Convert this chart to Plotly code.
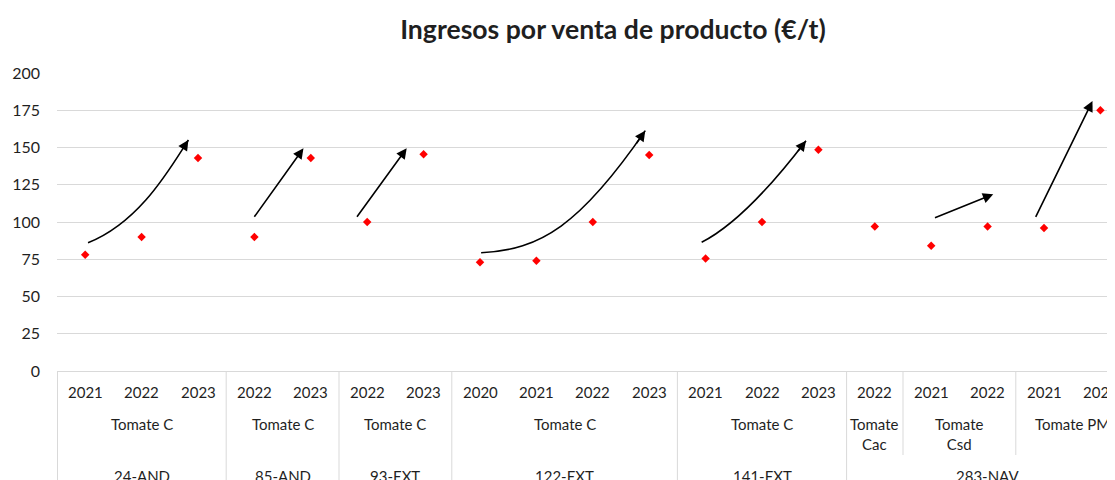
import plotly.graph_objects as go

# ---------------- data ----------------
farms = ["24-AND", "24-AND", "24-AND", "85-AND", "85-AND", "93-EXT", "93-EXT",
         "122-EXT", "122-EXT", "122-EXT", "122-EXT", "141-EXT", "141-EXT", "141-EXT",
         "283-NAV", "283-NAV", "283-NAV", "283-NAV", "283-NAV"]
products = ["Tomate C"] * 14 + ["Tomate<br>Cac", "Tomate<br>Csd", "Tomate<br>Csd",
                                 "Tomate PM", "Tomate PM"]
years = ["2021", "2022", "2023", "2022", "2023", "2022", "2023", "2020", "2021", "2022",
         "2023", "2021", "2022", "2023", "2022", "2021", "2022", "2021", "2023"]
ingresos = [78, 90, 143, 90, 143, 100, 145.5, 73, 74, 100, 145, 75.5, 100, 148.5,
            97, 84, 97, 96, 175]

y_ticks = [0, 25, 50, 75, 100, 125, 150, 175, 200]

# trend arrows drawn over the chart (category index, €/t); c1/c2 = curve control points
trend_arrows = [
    {"start": (0.05, 86), "c1": (0.975, 100), "c2": (1.507, 136.2), "end": (1.83, 155)},
    {"start": (2.98, 102.5), "end": (3.87, 149.5)},
    {"start": (4.80, 102.5), "end": (5.70, 149.5)},
    {"start": (7.02, 79.4), "c1": (8.07, 81.2), "c2": (8.78, 98.0), "end": (9.93, 161.3)},
    {"start": (10.93, 86.4), "c1": (11.71, 101.5), "end": (12.78, 154.6)},
    {"start": (15.04, 102.5), "end": (16.10, 118.6)},
    {"start": (16.84, 102.5), "end": (17.86, 181.2)},
]

# ---------------- layout constants ----------------
OFF = 8                      # page body margin
W, H = 1115 - OFF, 480 - OFF
ML, MT = 57 - OFF, 73 - OFF
AXIS_Y = 371 - OFF
MB = H - AXIS_Y
PH = AXIS_Y - MT
CAT_W = 56.4
FONT = "Lato"
TXT = "#1f1f1f"
GRID = "#d9d9d9"

n = len(years)
xs = list(range(n))
x_max = -0.5 + (W - ML) / CAT_W

fig = go.Figure()
fig.add_trace(go.Scatter(
    x=xs, y=ingresos, mode="markers",
    marker=dict(symbol="diamond", size=6.5, color="#ff0000", line=dict(width=0)),
    showlegend=False, hoverinfo="skip",
))

shapes = []
annotations = []

# year labels
for i, yv in enumerate(years):
    annotations.append(dict(x=i, y=0, xref="x", yref="paper", text=yv, showarrow=False,
                            yanchor="middle", yshift=-21, font=dict(family=FONT, size=15, color=TXT)))


def groups(keys):
    out = []
    start = 0
    for i in range(1, len(keys) + 1):
        if i == len(keys) or keys[i] != keys[start]:
            out.append((start, i - 1, keys[start]))
            start = i
    return out


prod_keys = [f + "|" + p for f, p in zip(farms, products)]
for s, e, k in groups(prod_keys):
    label = k.split("|", 1)[1]
    annotations.append(dict(x=(s + e) / 2, y=0, xref="x", yref="paper", text=label,
                            showarrow=False, yanchor="top", yshift=-42,
                            font=dict(family=FONT, size=15, color=TXT)))
for s, e, k in groups(farms):
    annotations.append(dict(x=(s + e) / 2, y=0, xref="x", yref="paper", text=k,
                            showarrow=False, yanchor="middle", yshift=-105,
                            font=dict(family=FONT, size=15, color=TXT)))

# divider lines
full_bottom = -(MB + 2) / PH
short_bottom = -(455 - 371) / PH
farm_bounds = [e + 0.5 for s, e, k in groups(farms)][:-1]
prod_bounds = [e + 0.5 for s, e, k in groups(prod_keys)][:-1]
shapes.append(dict(type="line", xref="paper", yref="paper", x0=0.0005, x1=0.0005,
                   y0=0, y1=full_bottom, line=dict(color=GRID, width=1)))
for b in farm_bounds:
    shapes.append(dict(type="line", xref="x", yref="paper", x0=b, x1=b, y0=0, y1=full_bottom,
                       line=dict(color=GRID, width=1)))
for b in prod_bounds:
    if b not in farm_bounds:
        shapes.append(dict(type="line", xref="x", yref="paper", x0=b, x1=b, y0=0, y1=short_bottom,
                           line=dict(color=GRID, width=1)))

# trend arrows
for a in trend_arrows:
    sx, sy = a["start"]
    ex, ey = a["end"]
    if "c1" in a:
        c1x, c1y = a["c1"]
        if "c2" in a:
            c2x, c2y = a["c2"]
            path = f"M {sx},{sy} C {c1x},{c1y} {c2x},{c2y} {ex},{ey}"
            lx, ly = c2x, c2y
        else:
            path = f"M {sx},{sy} Q {c1x},{c1y} {ex},{ey}"
            lx, ly = c1x, c1y
        shapes.append(dict(type="path", xref="x", yref="y", path=path,
                           line=dict(color="black", width=1.6)))
        tx, ty = ex + 0.15 * (lx - ex), ey + 0.15 * (ly - ey)
    else:
        tx, ty = sx, sy
    annotations.append(dict(x=ex, y=ey, ax=tx, ay=ty, xref="x", yref="y", axref="x", ayref="y",
                            text="", showarrow=True, arrowhead=2, arrowsize=1.3,
                            arrowwidth=1.6, arrowcolor="black"))

fig.update_layout(
    width=W, height=H,
    margin=dict(l=ML, r=0, t=MT, b=MB, pad=0),
    paper_bgcolor="white", plot_bgcolor="white",
    title=dict(text="<b>Ingresos por venta de producto (€/t)</b>", x=(613 - OFF) / W,
               xanchor="center", y=1 - (30 - OFF) / H, yanchor="middle",
               font=dict(family=FONT, size=26.6, color=TXT)),
    xaxis=dict(range=[-0.5, x_max], showgrid=False, zeroline=False, showticklabels=False,
               showline=True, linecolor=GRID, linewidth=1, fixedrange=True, automargin=False),
    yaxis=dict(range=[0, 200], tickvals=y_ticks, showgrid=True, gridcolor=GRID, gridwidth=1,
               zeroline=False, showline=False, ticks="", ticklabelstandoff=16, automargin=False,
               tickfont=dict(family=FONT, size=16, color=TXT), fixedrange=True),
    shapes=shapes, annotations=annotations,
)

fig.write_html("out.html")
